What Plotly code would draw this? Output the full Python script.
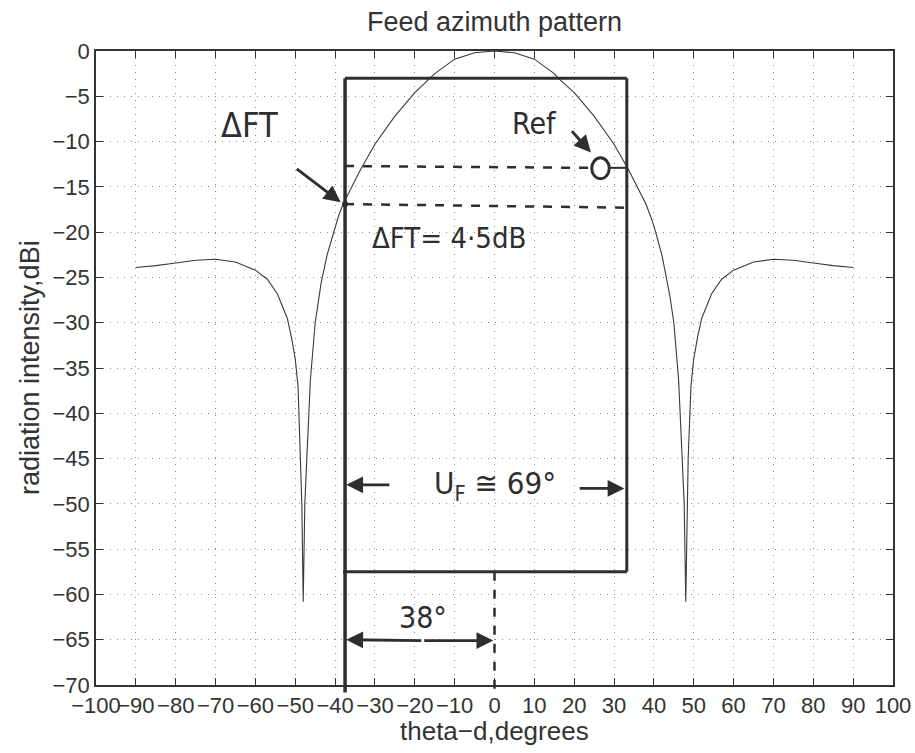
import plotly.graph_objects as go

# ---- data ----
theta_deg = [-90, -85, -80, -75, -70, -65, -60, -57, -54.5, -52, -51, -50, -49.3, -48.6, -48.35, -48,
             -47.6, -47.1, -46.2, -45, -44, -43.5, -42, -40, -39.2, -38, -35, -33.5, -30, -25, -20,
             -16, -15, -10, -5, 0,
             5, 10, 15, 16, 20, 25, 30, 33.5, 35, 38, 39.2, 40, 42, 43.5, 44, 45, 46.2, 47.1, 47.6,
             48, 48.35, 48.6, 49.3, 50, 51, 52, 54.5, 57, 60, 65, 70, 75, 80, 85, 90]
intensity_dbi = [-23.9, -23.7, -23.4, -23.1, -23.0, -23.3, -24.2, -25.2, -26.8, -29.5, -31.5, -34.0,
                 -37.0, -45.0, -50.0, -60.8, -50.0, -45.0, -36.3, -30.0, -27.0, -25.6, -22.5, -19.3,
                 -18.3, -16.9, -14.3, -13.0, -10.3, -7.2, -4.6, -3.0, -2.5, -0.9, -0.2, 0.0,
                 -0.2, -0.9, -2.5, -3.0, -4.6, -7.2, -10.3, -13.0, -14.3, -16.9, -18.3, -19.3, -22.5,
                 -25.6, -27.0, -30.0, -36.3, -45.0, -50.0, -60.8, -50.0, -45.0, -37.0, -34.0, -31.5,
                 -29.5, -26.8, -25.2, -24.2, -23.3, -23.0, -23.1, -23.4, -23.7, -23.9]

x_ticks = list(range(-100, 101, 10))
y_ticks = list(range(-70, 1, 5))

title_text = "Feed azimuth pattern"
x_label = "theta\u2212d,degrees"
y_label = "radiation intensity,dBi"

# hand-drawn annotation values
box_left, box_right, box_top, box_bottom = -37.5, 33.2, -3.0, -57.5
ref_level, dft_level = -12.7, -16.9

INK = "#2e2e2e"
HAND = "Liberation Sans Narrow, DejaVu Sans Condensed, Liberation Sans, sans-serif"
BASE = "Liberation Sans, Arial, Helvetica, sans-serif"

fig = go.Figure()
fig.add_trace(go.Scatter(x=theta_deg, y=intensity_dbi, mode="lines",
                         line=dict(color="#3a3a3a", width=1.1), showlegend=False,
                         hoverinfo="skip"))

shapes = []
def seg(x0, y0, x1, y1, w=3, dash="solid", yref="y"):
    shapes.append(dict(type="line", xref="x", yref=yref, x0=x0, y0=y0, x1=x1, y1=y1,
                       line=dict(color=INK, width=w, dash=dash)))

# box
seg(box_left, box_top, box_right, box_top, w=3)
seg(box_right, box_top, box_right, box_bottom, w=3)
seg(box_left - 0.5, box_bottom, box_right, box_bottom, w=3)
# left edge extends below axis
seg(box_left, (70 + box_top) / 70, box_left, -0.012, w=3.5, yref="paper")
# dashed vertical at 0
seg(0, (70 + box_bottom) / 70, 0, -0.012, w=2.5, dash="dash", yref="paper")
# dashed level lines
seg(box_left, ref_level, 23.6, ref_level - 0.2, w=2.5, dash="dash")
seg(box_left, dft_level, box_right, dft_level - 0.4, w=2.5, dash="dash")
seg(28.9, -12.9, box_right, -12.9, w=2)
# Ref circle
shapes.append(dict(type="circle", xref="x", yref="y", x0=24.4, x1=28.8, y0=-11.8, y1=-14.1,
                   line=dict(color=INK, width=3)))
# dot at DFT
shapes.append(dict(type="circle", xref="x", yref="y", x0=box_left - 0.6, x1=box_left + 0.6,
                   y0=dft_level + 0.35, y1=dft_level - 0.35, fillcolor=INK, line=dict(color=INK, width=1)))

annotations = []
def arrow(x_tail, y_tail, x_head, y_head):
    annotations.append(dict(x=x_head, y=y_head, ax=x_tail, ay=y_tail, xref="x", yref="y",
                            axref="x", ayref="y", text="", showarrow=True, arrowhead=2,
                            arrowsize=1.2, arrowwidth=2.8, arrowcolor=INK))
def hand(x, y, text, size):
    annotations.append(dict(x=x, y=y, xref="x", yref="y", text=text, showarrow=False,
                            font=dict(family=HAND, size=size, color=INK)))

hand(-61.5, -8.2, "\u0394FT", 34)
arrow(-50, -12.9, -38.6, -16.7)
hand(10, -8.0, "Ref", 30)
arrow(19.1, -8.7, 24.2, -11.2)
hand(-11.5, -20.6, "\u0394FT= 4\u00b75dB", 29)
hand(0, -48.0, "U<sub>F</sub> \u2245 69\u00b0", 31)
arrow(-26, -47.9, box_left + 0.3, -47.9)
arrow(21, -48.3, box_right - 0.6, -48.3)
hand(-18, -62.6, "38\u00b0", 30)
arrow(-18, -65.1, box_left + 0.3, -65.0)
arrow(-18, -65.1, -0.3, -65.1)

# axis titles
annotations.append(dict(x=0, y=0.5, xref="paper", yref="paper", xshift=-66, text=y_label,
                        textangle=-90, showarrow=False, xanchor="center", yanchor="middle",
                        font=dict(family=BASE, size=27, color="#333")))
annotations.append(dict(x=0.5, y=0, xref="paper", yref="paper", yshift=-46, text=x_label,
                        showarrow=False, xanchor="center", yanchor="middle",
                        font=dict(family=BASE, size=26, color="#333")))

axis_common = dict(showline=True, linecolor="#333", linewidth=1.5, mirror="ticks",
                   ticks="inside", ticklen=7, tickcolor="#333", showgrid=True,
                   gridcolor="#8a8a8a", griddash="1px,6px", gridwidth=1, zeroline=False,
                   automargin=False,
                   tickfont=dict(family=BASE, size=22, color="#333"), tickangle=0)

fig.update_layout(
    width=915, height=753,
    margin=dict(l=96, r=22, t=51, b=68, autoexpand=False),
    paper_bgcolor="white", plot_bgcolor="white",
    title=dict(text=title_text, x=0.5, xref="paper", y=1 - 22 / 753, yref="container",
               xanchor="center", yanchor="middle", automargin=False,
               font=dict(family=BASE, size=27, color="#333")),
    xaxis=dict(range=[-100, 100], tickvals=x_ticks, ticktext=[f"\u2212{abs(v)}" if v < 0 else str(v) for v in x_ticks], **axis_common),
    yaxis=dict(range=[-70, 0], tickvals=y_ticks, ticktext=[f"\u2212{abs(v)}" if v < 0 else str(v) for v in y_ticks], **axis_common),
    shapes=shapes, annotations=annotations, showlegend=False,
)

fig.write_html("out.html", config={"displayModeBar": False},
               post_script="document.body.style.margin='0';document.body.style.overflow='hidden';")
